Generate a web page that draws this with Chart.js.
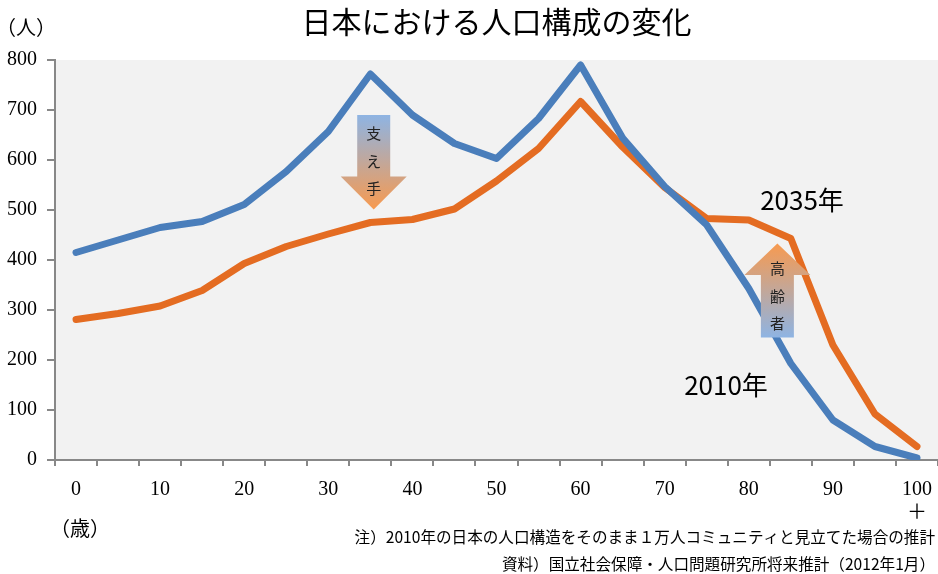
<!DOCTYPE html>
<html lang="ja">
<head>
<meta charset="utf-8">
<title>日本における人口構成の変化</title>
<script src="https://cdn.jsdelivr.net/npm/chart.js@4.4.1/dist/chart.umd.min.js"></script>
<style>
  body { margin: 0; background: #fff; }
  #wrap { width: 938px; height: 574px; }
</style>
</head>
<body>
<div id="wrap"><canvas id="popChart" width="938" height="574"></canvas></div>
<script>
// 年齢階級 (5歳刻み)
const ages = ['0', '5', '10', '15', '20', '25', '30', '35', '40', '45', '50',
              '55', '60', '65', '70', '75', '80', '85', '90', '95', '100+'];
// 1万人コミュニティに換算した人数
const pop2010 = [415, 440, 465, 477, 511, 577, 657, 772, 690, 633, 603,
                 683, 790, 644, 547, 470, 343, 193, 80, 27, 4];
const pop2035 = [281, 293, 308, 339, 393, 427, 452, 475, 481, 502, 558,
                 623, 717, 626, 545, 483, 480, 443, 230, 92, 27];
const yTicks = [0, 100, 200, 300, 400, 500, 600, 700, 800];

const serif = '"Liberation Serif", "Noto Sans CJK JP", serif';
const sans = '"Noto Sans CJK JP", "Noto Sans", sans-serif';

// 塗りつぶしたプロット領域
const plotBg = {
  id: 'plotBg',
  beforeDraw(chart) {
    const { ctx, chartArea: a } = chart;
    ctx.save();
    ctx.fillStyle = '#f2f2f2';
    ctx.fillRect(a.left, a.top, a.right - a.left, a.bottom - a.top);
    ctx.restore();
  }
};

// 矢印と注記
function xAt(chart, idx) {
  const s = chart.scales.x;
  const p0 = s.getPixelForValue(0), p1 = s.getPixelForValue(1);
  return p0 + (p1 - p0) * idx;
}

function arrow(ctx, cx, yTail, yBase, yTip, shaftW, headW, cTail, cTip) {
  const g = ctx.createLinearGradient(0, yTail, 0, yTip);
  g.addColorStop(0, cTail);
  g.addColorStop(1, cTip);
  ctx.beginPath();
  ctx.moveTo(cx - shaftW, yTail);
  ctx.lineTo(cx + shaftW, yTail);
  ctx.lineTo(cx + shaftW, yBase);
  ctx.lineTo(cx + headW, yBase);
  ctx.lineTo(cx, yTip);
  ctx.lineTo(cx - headW, yBase);
  ctx.lineTo(cx - shaftW, yBase);
  ctx.closePath();
  ctx.fillStyle = g;
  ctx.fill();
}

const notes = {
  id: 'notes',
  afterDatasetsDraw(chart) {
    const { ctx } = chart;
    const y = chart.scales.y;
    ctx.save();

    // 支え手 (下向き)
    const x1 = xAt(chart, 7.08);
    arrow(ctx, x1, y.getPixelForValue(690), y.getPixelForValue(567), y.getPixelForValue(501),
          16.5, 33, '#8eb4e3', '#f79a50');
    // 高齢者 (上向き)
    const x2 = xAt(chart, 16.68);
    arrow(ctx, x2, y.getPixelForValue(245), y.getPixelForValue(370), y.getPixelForValue(433),
          16.5, 33, '#8eb4e3', '#f79a50');

    ctx.fillStyle = '#222';
    ctx.font = '15px ' + sans;
    ctx.textAlign = 'center';
    ctx.textBaseline = 'middle';
    [['支', 133], ['え', 161], ['手', 188]].forEach(([t, py]) => ctx.fillText(t, x1, py));
    [['高', 268], ['齢', 296], ['者', 323]].forEach(([t, py]) => ctx.fillText(t, x2, py));

    ctx.fillStyle = '#000';
    ctx.font = '26px ' + sans;
    ctx.fillText('2035年', 802, 200);
    ctx.fillText('2010年', 726, 385);

    ctx.font = '20px ' + serif;
    ctx.textAlign = 'left';
    ctx.fillText('（人）', -4, 30);
    ctx.fillText('（歳）', 50, 531);

    ctx.font = '15.6px ' + sans;
    ctx.textAlign = 'right';
    ctx.fillText('注）2010年の日本の人口構造をそのまま１万人コミュニティと見立てた場合の推計', 935, 537);
    ctx.fillText('資料）国立社会保障・人口問題研究所将来推計（2012年1月）', 935, 564);
    ctx.restore();
  }
};

new Chart(document.getElementById('popChart'), {
  type: 'line',
  data: {
    labels: ages,
    datasets: [
      {
        label: '2010年',
        data: pop2010,
        borderColor: '#4a7ebb',
        borderWidth: 7,
        borderCapStyle: 'round',
        borderJoinStyle: 'round',
        pointRadius: 0,
        tension: 0
      },
      {
        label: '2035年',
        data: pop2035,
        borderColor: '#e46c22',
        borderWidth: 7,
        borderCapStyle: 'round',
        borderJoinStyle: 'round',
        pointRadius: 0,
        tension: 0
      }
    ]
  },
  options: {
    responsive: false,
    animation: false,
    layout: { padding: 0 },
    plugins: {
      legend: { display: false },
      tooltip: { enabled: false },
      title: {
        display: true,
        fullSize: false,
        text: '日本における人口構成の変化',
        color: '#000',
        font: { family: sans, size: 30, weight: 'normal' },
        padding: { top: 4, bottom: 20 }
      }
    },
    scales: {
      x: {
        offset: true,
        grid: { offset: true, drawOnChartArea: false, tickLength: 6, color: '#888', lineWidth: 2 },
        border: { color: '#888', width: 2 },
        ticks: {
          autoSkip: false,
          maxRotation: 0,
          padding: 12,
          color: '#000',
          font: { family: serif, size: 20, lineHeight: 1.2 },
          callback(val, idx) {
            if (idx % 2) return '';
            const s = this.getLabelForValue(val);
            return s.endsWith('+') ? [s.slice(0, -1), '＋'] : s;
          }
        },
        afterFit(s) {
          s.height = 114;
          s.paddingLeft = 0;
          s.paddingRight = 0;
        }
      },
      y: {
        min: 0,
        max: 800,
        afterBuildTicks(s) { s.ticks = yTicks.map(v => ({ value: v })); },
        grid: { drawOnChartArea: false, tickLength: 8, color: '#888', lineWidth: 2 },
        border: { color: '#888', width: 2 },
        ticks: {
          padding: 10,
          color: '#000',
          font: { family: serif, size: 20 }
        },
        afterFit(s) { s.width = 55; }
      }
    }
  },
  plugins: [plotBg, notes]
});
</script>
</body>
</html>
